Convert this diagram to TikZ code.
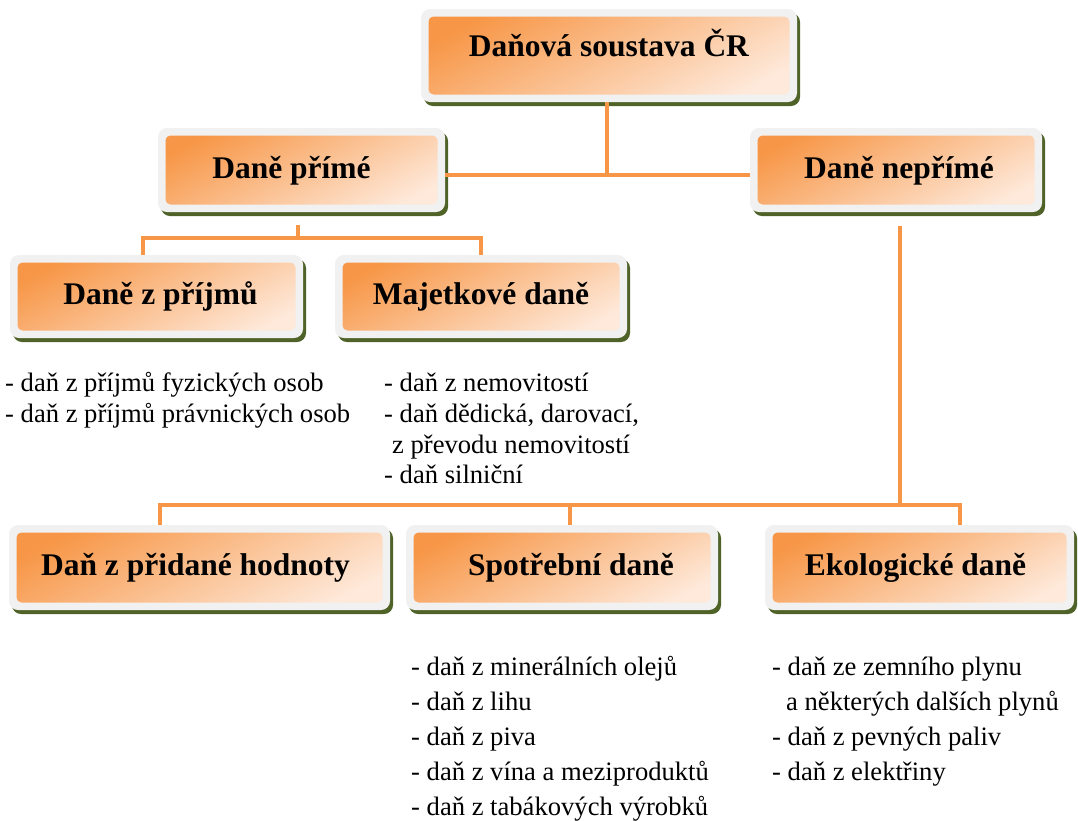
\documentclass[tikz,border=0pt]{standalone}
\usepackage{fontspec}
\setmainfont{Liberation Serif}
\usetikzlibrary{calc,shadows}

\definecolor{orDark}{HTML}{F79646}
\definecolor{orLight}{HTML}{FEE9DA}
\definecolor{frameGrey}{HTML}{F1F1F1}
\definecolor{shadowGreen}{HTML}{4F6228}

\tikzset{
  taxbox/.style={
    rectangle, rounded corners=9pt, fill=frameGrey, draw=none, inner sep=0pt,
    font=\fontsize{31.5}{36}\selectfont\bfseries,
    text height=22pt, text depth=6pt,
    drop shadow={shadow xshift=3pt, shadow yshift=-4pt, fill=shadowGreen, opacity=1},
    path picture={
      \shade[rounded corners=5pt, top color=orDark, bottom color=orLight, shading angle=28]
        ($(path picture bounding box.north west)+(7.5pt,-7.5pt)$) rectangle
        ($(path picture bounding box.south east)+(-7.5pt,7.5pt)$);
    }
  },
  link/.style={draw=orDark, line width=3.4pt},
  item/.style={anchor=base west, inner sep=0pt, font=\fontsize{26.6}{30}\selectfont}
}

% box from its outer corners (x1,y1) (x2,y2) in pixels; #1 = extra node options
\newcommand\taxnode[7][]{%
  \node[taxbox, minimum width={(#5-#3)*1pt}, minimum height={(#6-#4)*1pt}, #1]
    (#2) at ({(#3+#5)/2},{(#4+#6)/2}) {#7};}

\begin{document}
\begin{tikzpicture}[x=1pt,y=-1pt]
\useasboundingbox (0,0) rectangle (1078,820);

% boxes
\taxnode[text depth=20pt]{top}{421}{9}{797}{102}{Daňová soustava ČR}
\taxnode{prime}{158}{128}{445}{212}{Daně přímé\hspace*{20pt}}
\taxnode{neprime}{750}{128}{1042}{212}{\hspace*{6pt}Daně nepřímé}
\taxnode{prijmy}{10}{255}{303}{338}{\hspace*{8pt}Daně z příjmů}
\taxnode{majetek}{335}{255}{627}{338}{Majetkové daně}
\taxnode{dph}{9}{525}{390}{610}{Daň z přidané hodnoty\hspace*{8pt}}
\taxnode{spotreba}{406}{525}{718}{610}{\hspace*{18pt}Spotřební daně}
\taxnode{eko}{765}{525}{1074}{610}{Ekologické daně\hspace*{8pt}}

% junction points
\coordinate (j0) at (607,175);
\coordinate (j1) at (298,238);
\coordinate (b1) at (143,238);
\coordinate (b2) at (481,238);
\coordinate (c0) at (900,505);
\coordinate (c1) at (160,505);
\coordinate (c2) at (570,505);
\coordinate (c3) at (960,505);

% connectors
\draw[link] (top.south -| j0) -- (j0);
\draw[link] (prime.east |- j0) -- (neprime.west |- j0);
\draw[link] ([yshift=-13pt]prime.south -| j1) -- (j1);
\draw[link] (prijmy.north -| b1) -- (b1) -- (b2) -- (majetek.north -| b2);
\draw[link] ([yshift=-14pt]neprime.south -| c0) -- (c0);
\draw[link] (dph.north -| c1) -- (c1) -- (c3) -- (eko.north -| c3);
\draw[link] (c2) -- (spotreba.north -| c2);

% item lists
\node[item] (p1) at (5,391.5) {- daň z příjmů fyzických osob};
\node[item] (p2) at (5,422.5) {- daň z příjmů právnických osob};

\node[item] (m1) at (384,391.5) {- daň z nemovitostí};
\node[item] (m2) at (384,422.5) {- daň dědická, darovací,};
\node[item] (m3) at (392,453) {z převodu nemovitostí};
\node[item] (m4) at (384,483.5) {- daň silniční};

\node[item] (s1) at (411,675) {- daň z minerálních olejů};
\node[item] (s2) at (411,710) {- daň z lihu};
\node[item] (s3) at (411,745) {- daň z piva};
\node[item] (s4) at (411,780) {- daň z vína a meziproduktů};
\node[item] (s5) at (411,815) {- daň z tabákových výrobků};

\node[item] (e1) at (772,675) {- daň ze zemního plynu};
\node[item] (e2) at (786,710) {a některých dalších plynů};
\node[item] (e3) at (772,745) {- daň z pevných paliv};
\node[item] (e4) at (772,780) {- daň z elektřiny};
\end{tikzpicture}
\end{document}
